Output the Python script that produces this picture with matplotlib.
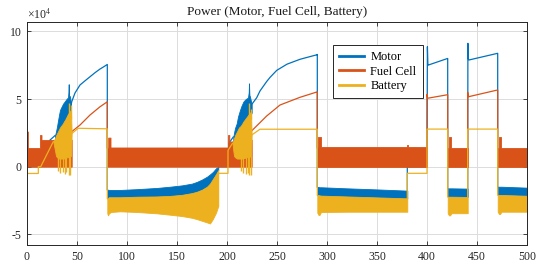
import numpy as np
import matplotlib
matplotlib.use('Agg')
import matplotlib.pyplot as plt
from matplotlib.lines import Line2D

plt.rcParams['font.family'] = ['Liberation Serif', 'DejaVu Serif']
plt.rcParams['mathtext.fontset'] = 'stix'
plt.rcParams['axes.unicode_minus'] = False

nan = np.nan
C_MOTOR = '#0072BD'
C_FC = '#D95319'
C_BAT = '#EDB120'

# ---------------- data (units of 1e4 W) ----------------
x_ticks = [0, 50, 100, 150, 200, 250, 300, 350, 400, 450, 500]
y_ticks = [-5, 0, 5, 10]
labels = ['Motor', 'Fuel Cell', 'Battery']

# Motor: line parts
motor_t = [0, 13, 23, 28, nan,
           44, 44.7, 48, 53, 58, 63, 68, 73, 77, 80.3, 80.3, nan,
           191.3, 201, 202, 206.3, nan,
           224.7, 229.7, 233, 239.7, 243, 249.7, 260, 273, 280, 289.7, 290.3, 290.3, nan,
           380.3, 380.3, 400, 400.4, 400.9, 401.5, 420.5, 420.7, 420.7, nan,
           440.7, 440.9, 441.4, 442, 470.5, 470.7, 470.7]
motor_p = [0, 0, 1.97, 2.3, nan,
           4.5, 4.8, 5.45, 6.04, 6.35, 6.65, 6.95, 7.22, 7.4, 7.56, -1.7, nan,
           0, 0, 1.75, 2.2, nan,
           4.6, 5.1, 5.6, 6.3, 6.6, 7.12, 7.58, 7.94, 8.08, 8.27, 8.3, -1.5, nan,
           -1.77, 0, 0, 8.87, 7.5, 7.52, 8.0, 8.0, -1.6, nan,
           -1.6, 9.12, 7.95, 7.89, 8.38, 8.38, -1.48]

# Motor: oscillating envelopes, acceleration phase 1
m_osc1_t = [28, 29, 30, 31, 32, 33, 34, 35, 36, 37, 38, 39, 40, 41, 41.4, 41.7, 42, 43, 44]
m_osc1_hi = [2.3, 2.6, 2.96, 3.4, 3.82, 4.19, 4.35, 4.5, 4.65, 4.75, 4.85, 4.95, 5.05, 5.1, 5.5, 6.1, 5.25, 5.2, 4.6]
m_osc1_lo = [1.8, 2.0, 2.1, 2.3, 2.4, 2.6, 2.7, 2.8, 2.9, 3.0, 3.1, 3.2, 3.4, 3.5, 3.6, 3.6, 3.7, 3.8, 4.0]
# acceleration phase 2
m_osc2_t = [206.3, 207, 208, 209.7, 211, 213, 214.5, 216.3, 218, 219.7, 221, 221.7, 222, 222.4, 223, 224.7]
m_osc2_hi = [2.2, 2.5, 2.85, 3.2, 3.7, 4.19, 4.5, 4.8, 4.95, 5.05, 5.1, 5.5, 6.16, 5.3, 5.17, 4.6]
m_osc2_lo = [1.6, 1.8, 2.0, 2.2, 2.4, 2.6, 2.8, 3.0, 3.2, 3.3, 3.5, 3.6, 3.6, 3.7, 3.7, 4.0]

# Regenerative phases: motor band upper edge, battery band (upper = motor lower edge)
regen1_t = [80.3, 81, 82, 84, 93, 110, 130, 143, 155, 165, 170, 175, 180, 183, 186, 189, 191.3]
m_regen1_hi = [-1.7, -1.7, -1.72, -1.72, -1.72, -1.66, -1.57, -1.48, -1.38, -1.25, -1.12, -0.95, -0.74, -0.57, -0.38, -0.12, 0.0]
b_regen1_hi = [-2.35, -2.3, -2.26, -2.26, -2.26, -2.22, -2.2, -2.16, -2.08, -1.95, -1.85, -1.7, -1.48, -1.25, -0.9, -0.55, -0.25]
b_regen1_lo = [-3.45, -3.6, -3.45, -3.35, -3.3, -3.35, -3.45, -3.55, -3.65, -3.78, -3.88, -4.0, -4.12, -4.2, -3.85, -3.4, -2.9]

regen2_t = [290.3, 291.5, 292.5, 294, 320, 350, 380.3]
m_regen2_hi = [-1.5, -1.5, -1.52, -1.52, -1.6, -1.68, -1.77]
b_regen2_hi = [-2.1, -2.1, -2.12, -2.14, -2.2, -2.27, -2.34]
b_regen2_lo = [-3.4, -3.57, -3.57, -3.35, -3.33, -3.33, -3.33]

regen3_t = [420.7, 422, 423, 424.5, 440.7]
m_regen3_hi = [-1.6, -1.6, -1.6, -1.6, -1.62]
b_regen3_hi = [-2.22, -2.22, -2.22, -2.22, -2.24]
b_regen3_lo = [-3.44, -3.6, -3.6, -3.44, -3.44]

regen4_t = [470.7, 472, 473, 474.5, 500]
m_regen4_hi = [-1.48, -1.48, -1.48, -1.48, -1.55]
b_regen4_hi = [-2.09, -2.09, -2.09, -2.09, -2.15]
b_regen4_lo = [-3.33, -3.5, -3.5, -3.33, -3.33]

# Fuel cell: line parts
fc_t = [44.7, 53, 63, 73, 80.3, 80.3, nan,
        224.7, 239.7, 253, 273, 289.7, 290.3, 290.3, nan,
        400, 400, 400.6, 420.5, 420.7, 420.7, nan,
        440.7, 440.7, 441.3, 470.5, 470.7, 470.7]
fc_p = [2.59, 3.08, 3.82, 4.43, 4.8, 1.4, nan,
        2.65, 3.75, 4.56, 5.13, 5.52, 5.52, 1.4, nan,
        1.4, 5.35, 5.06, 5.32, 5.32, 1.4, nan,
        1.4, 5.5, 5.17, 5.67, 5.67, 1.4]
# Fuel cell: oscillating band (0 .. upper)
fc_b1_t = [0, 0.9, 0.9, 13, 13, 14.5, 14.5, 44.7]
fc_b1_hi = [2.6, 2.6, 1.38, 1.38, 2.34, 2.34, 1.97, 2.0]
fc_b2_t = [80.3, 81.2, 81.2, 83.5, 83.5, 201, 201, 202.3, 202.3, 224.7]
fc_b2_hi = [1.4, 1.4, 2.15, 2.15, 1.42, 1.42, 2.34, 2.34, 1.85, 2.0]
fc_b3_t = [290.3, 291.3, 291.3, 293.5, 293.5, 380, 380, 381, 381, 400]
fc_b3_hi = [1.42, 1.42, 2.2, 2.2, 1.42, 1.42, 1.6, 1.6, 1.42, 1.42]
fc_b4_t = [420.7, 421.7, 421.7, 423.7, 423.7, 440.7]
fc_b4_hi = [1.38, 1.38, 2.2, 2.2, 1.38, 1.38]
fc_b5_t = [470.7, 471.7, 471.7, 473.7, 473.7, 500]
fc_b5_hi = [1.38, 1.38, 2.2, 2.2, 1.38, 1.38]

# Battery: line parts
bat_t = [0, 11.3, 11.3, 13.7, 26.3, nan,
         44.7, 51.3, 80.3, 80.3, nan,
         191.3, 191.3, 201, 201, 205.5, nan,
         224.7, 233, 290.3, 290.3, nan,
         380.3, 380.3, 400, 400, 420.7, 420.7, nan,
         440.7, 440.7, 470.7, 470.7]
bat_p = [-0.5, -0.5, 0, 0, 1.85, nan,
         2.45, 2.84, 2.8, -2.35, nan,
         -2.9, -0.49, -0.49, 1.2, 1.73, nan,
         2.34, 2.77, 2.77, -2.1, nan,
         -2.34, -0.49, -0.49, 2.78, 2.78, -2.22, nan,
         -2.22, 2.78, 2.78, -2.09]
# Battery: oscillating envelopes in the acceleration phases
b_osc1_t = [26.3, 28, 29, 30, 31, 32, 33, 34, 35, 36, 37, 38, 39, 40, 41, 42, 43, 44, 44.7]
b_osc1_hi = [1.85, 2.1, 2.3, 2.45, 2.6, 2.75, 2.9, 3.0, 3.1, 3.2, 3.35, 3.45, 3.6, 3.75, 3.9, 4.0, 4.1, 4.2, 2.45]
b_osc1_lo = [1.85, 1.2, 0.8, 0.7, 0.65, 0.6, 0.6, 0.6, 0.6, 0.6, 0.6, 0.65, 0.65, 0.7, 0.7, 0.7, 0.75, 0.8, 2.45]
b_spk1_t = [30.7, 33.0, 35.5, 37.5, 39.0, 42.0, 43.2]
b_spk1_lo = [-0.3, -0.45, -0.4, -0.55, -0.4, -0.6, -0.6]
b_spk1_up_t = [42.3, 43.5]
b_spk1_up = [4.7, 4.55]

b_osc2_t = [205.5, 206.3, 207, 208, 209, 210, 211, 212, 213, 214, 215, 216, 217, 218, 219, 220, 221, 222, 223, 224, 224.7]
b_osc2_hi = [1.73, 1.9, 2.1, 2.3, 2.46, 2.6, 2.75, 2.9, 2.96, 3.05, 3.15, 3.3, 3.4, 3.5, 3.6, 3.7, 3.8, 3.9, 4.0, 4.05, 2.34]
b_osc2_lo = [1.73, 1.2, 0.8, 0.7, 0.65, 0.6, 0.6, 0.6, 0.6, 0.6, 0.6, 0.6, 0.65, 0.65, 0.7, 0.7, 0.7, 0.7, 0.75, 0.8, 2.34]
b_spk2_t = [213.5, 216.0, 218.5, 220.5, 222.3, 223.7]
b_spk2_lo = [-0.3, -0.45, -0.55, -0.5, -0.6, -0.6]
b_spk2_up_t = [222.3, 223.5]
b_spk2_up = [4.7, 4.3]

# ---------------- figure ----------------
fig = plt.figure(figsize=(5.42, 2.62), dpi=100)
ax = fig.add_axes([27 / 542, 1 - 245 / 262, 500 / 542, (245 - 21.7) / 262])

LW = 0.9
def band(t, lo, hi, c, z):
    ax.fill_between(t, lo, hi, color=c, lw=0.6, edgecolor=c, zorder=z)

# Motor
ax.plot(motor_t, motor_p, color=C_MOTOR, lw=LW, zorder=2)
band(m_osc1_t, m_osc1_lo, m_osc1_hi, C_MOTOR, 2)
band(m_osc2_t, m_osc2_lo, m_osc2_hi, C_MOTOR, 2)
band(regen1_t, b_regen1_hi, m_regen1_hi, C_MOTOR, 2)
band(regen2_t, b_regen2_hi, m_regen2_hi, C_MOTOR, 2)
band(regen3_t, b_regen3_hi, m_regen3_hi, C_MOTOR, 2)
band(regen4_t, b_regen4_hi, m_regen4_hi, C_MOTOR, 2)

# Fuel cell
ax.plot(fc_t, fc_p, color=C_FC, lw=LW, zorder=3)
for t, hi in [(fc_b1_t, fc_b1_hi), (fc_b2_t, fc_b2_hi), (fc_b3_t, fc_b3_hi),
              (fc_b4_t, fc_b4_hi), (fc_b5_t, fc_b5_hi)]:
    band(t, np.zeros(len(t)), hi, C_FC, 3)

# Battery
ax.plot(bat_t, bat_p, color=C_BAT, lw=LW, zorder=4)
band(b_osc1_t, b_osc1_lo, b_osc1_hi, C_BAT, 4)
band(b_osc2_t, b_osc2_lo, b_osc2_hi, C_BAT, 4)
ax.vlines(b_spk1_t, b_spk1_lo, 0.8, color=C_BAT, lw=1.0, zorder=4)
ax.vlines(b_spk2_t, b_spk2_lo, 0.8, color=C_BAT, lw=1.0, zorder=4)
ax.vlines(b_spk1_up_t, 3.5, b_spk1_up, color=C_BAT, lw=1.0, zorder=4)
ax.vlines(b_spk2_up_t, 3.5, b_spk2_up, color=C_BAT, lw=1.0, zorder=4)
band(regen1_t, b_regen1_lo, b_regen1_hi, C_BAT, 4)
band(regen2_t, b_regen2_lo, b_regen2_hi, C_BAT, 4)
band(regen3_t, b_regen3_lo, b_regen3_hi, C_BAT, 4)
band(regen4_t, b_regen4_lo, b_regen4_hi, C_BAT, 4)

# Axes styling
ax.set_xlim(0, 500)
ax.set_ylim(-5.79, 10.72)
ax.set_xticks(x_ticks)
ax.set_yticks(y_ticks)
ax.set_xticklabels([str(v) for v in x_ticks])
ax.set_yticklabels([str(v) for v in y_ticks])
ax.grid(True, color='#dcdcdc', lw=0.7, zorder=0)
ax.set_axisbelow(True)
for s in ax.spines.values():
    s.set_color('#262626')
    s.set_linewidth(0.7)
    s.set_zorder(6)
ax.tick_params(direction='in', length=3, width=0.6, colors='#262626',
               labelsize=8.5, top=True, right=True, pad=4)
ax.set_title('Power (Motor, Fuel Cell, Battery)', fontsize=9.5, pad=5, color='#1a1a1a')
ax.text(0.0, 1.0, '\u00d710$^{4}$', transform=ax.transAxes, ha='left', va='bottom',
        fontsize=8.5, color='#262626')

handles = [Line2D([], [], color=c, lw=2) for c in (C_MOTOR, C_FC, C_BAT)]
leg = ax.legend(handles, labels, loc='upper left', bbox_to_anchor=(0.612, 0.896),
                borderaxespad=0, fontsize=9, frameon=True, fancybox=False,
                edgecolor='#262626', framealpha=1, handlelength=2.0,
                handletextpad=0.5, labelspacing=0.2, borderpad=0.5)
leg.get_frame().set_linewidth(0.7)
leg.set_zorder(10)

fig.savefig('out.png', dpi=100)
